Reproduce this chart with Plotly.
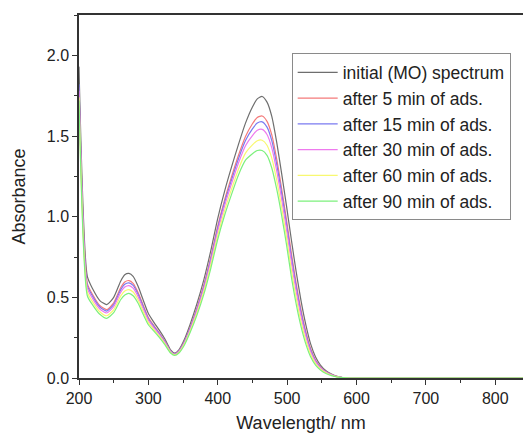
import plotly.graph_objects as go

wavelength = [200, 212, 220, 230, 240, 250, 260, 266, 272, 278, 285, 292, 300, 308, 316, 324, 332, 338,
              344, 352, 360, 370, 380, 390, 400, 410, 420, 430, 440, 450, 457, 464, 471, 478, 485, 492,
              499, 506, 513, 520, 527, 534, 541, 548, 556, 564, 572, 580, 590, 840]

initial = [1.93, 0.63, 0.55, 0.48, 0.455, 0.50, 0.60, 0.64, 0.648, 0.63, 0.57, 0.49, 0.40, 0.345, 0.295, 0.24, 0.175, 0.155,
           0.175, 0.24, 0.33, 0.46, 0.61, 0.79, 0.99, 1.16, 1.31, 1.45, 1.58, 1.68, 1.73, 1.745, 1.71, 1.62, 1.46, 1.27,
           1.07, 0.86, 0.66, 0.48, 0.33, 0.21, 0.13, 0.08, 0.045, 0.025, 0.010, 0.003, 0.0, 0.0]

min5 = [1.80, 0.587, 0.514, 0.449, 0.424, 0.466, 0.559, 0.595, 0.604, 0.587, 0.532, 0.458, 0.375, 0.325, 0.279, 0.227, 0.168, 0.150,
        0.168, 0.227, 0.312, 0.435, 0.578, 0.750, 0.943, 1.106, 1.249, 1.382, 1.497, 1.576, 1.615, 1.624, 1.591, 1.505, 1.356, 1.176,
        0.984, 0.777, 0.588, 0.422, 0.287, 0.181, 0.112, 0.069, 0.039, 0.021, 0.009, 0.003, 0.0, 0.0]

min15 = [1.82, 0.574, 0.503, 0.440, 0.415, 0.455, 0.546, 0.581, 0.590, 0.574, 0.521, 0.448, 0.367, 0.319, 0.274, 0.224, 0.166, 0.148,
         0.166, 0.224, 0.307, 0.427, 0.568, 0.738, 0.929, 1.090, 1.230, 1.361, 1.472, 1.544, 1.580, 1.588, 1.555, 1.470, 1.324, 1.148,
         0.957, 0.752, 0.566, 0.405, 0.274, 0.172, 0.107, 0.066, 0.037, 0.020, 0.008, 0.003, 0.0, 0.0]

min30 = [1.78, 0.557, 0.489, 0.428, 0.403, 0.442, 0.530, 0.564, 0.573, 0.557, 0.506, 0.435, 0.357, 0.311, 0.268, 0.219, 0.163, 0.146,
         0.163, 0.219, 0.300, 0.417, 0.555, 0.723, 0.911, 1.069, 1.206, 1.334, 1.440, 1.503, 1.535, 1.541, 1.509, 1.425, 1.283, 1.111,
         0.924, 0.720, 0.538, 0.382, 0.257, 0.161, 0.100, 0.062, 0.035, 0.019, 0.008, 0.002, 0.0, 0.0]

min60 = [1.74, 0.533, 0.469, 0.411, 0.386, 0.423, 0.507, 0.539, 0.548, 0.533, 0.485, 0.417, 0.343, 0.300, 0.259, 0.212, 0.159, 0.143,
         0.159, 0.212, 0.290, 0.403, 0.537, 0.701, 0.885, 1.039, 1.172, 1.296, 1.394, 1.445, 1.471, 1.474, 1.443, 1.361, 1.225, 1.059,
         0.876, 0.674, 0.498, 0.350, 0.233, 0.145, 0.090, 0.056, 0.032, 0.017, 0.007, 0.002, 0.0, 0.0]

min90 = [1.72, 0.51, 0.45, 0.395, 0.37, 0.405, 0.485, 0.515, 0.525, 0.51, 0.465, 0.40, 0.33, 0.29, 0.25, 0.205, 0.155, 0.14,
         0.155, 0.205, 0.28, 0.39, 0.52, 0.68, 0.86, 1.01, 1.14, 1.26, 1.35, 1.39, 1.41, 1.41, 1.38, 1.30, 1.17, 1.01,
         0.83, 0.63, 0.46, 0.32, 0.21, 0.13, 0.08, 0.05, 0.028, 0.015, 0.006, 0.002, 0.0, 0.0]

series_names = ["initial (MO) spectrum", "after 5 min of ads.", "after 15 min of ads.",
                "after 30 min of ads.", "after 60 min of ads.", "after 90 min of ads."]
series_values = [initial, min5, min15, min30, min60, min90]
series_colors = ["#6e6e6e", "#f47a7a", "#7a7af0", "#ee7aee", "#f8f870", "#7cf07c"]

y_ticks = [0.0, 0.5, 1.0, 1.5, 2.0]
x_ticks = [200, 300, 400, 500, 600, 700, 800]

FONT = "Arial, Liberation Sans, sans-serif"

fig = go.Figure()
for name, vals, col in zip(series_names, series_values, series_colors):
    fig.add_trace(go.Scatter(x=wavelength, y=vals, mode="lines", name=name,
                             line=dict(color=col, width=1.2, shape="spline", smoothing=0.6)))

fig.update_layout(
    width=523, height=434,
    margin=dict(l=79, r=0, t=15, b=56),
    paper_bgcolor="white", plot_bgcolor="white",
    font=dict(family=FONT, size=16, color="#222"),
    showlegend=True,
    legend=dict(x=0.479, y=0.894, xanchor="left", yanchor="top",
                bgcolor="white", bordercolor="#8a8a8a", borderwidth=1,
                font=dict(family=FONT, size=17.5, color="#222"),
                itemwidth=40, tracegroupgap=0),
)
fig.update_xaxes(
    range=[200, 840], tickvals=x_ticks, ticks="outside", ticklen=5, tickwidth=1.3,
    tickcolor="#333", showline=True, linecolor="#333", linewidth=1.5, mirror=True,
    showgrid=False, zeroline=False,
    minor=dict(ticks="outside", ticklen=3, tickwidth=1.2, tickcolor="#333", dtick=50, showgrid=False),
    title=dict(text="Wavelength/ nm", font=dict(family=FONT, size=18, color="#222"), standoff=10),
    tickfont=dict(family=FONT, size=16, color="#222"),
)
fig.update_yaxes(
    range=[0, 2.25], tickvals=y_ticks, tickformat=".1f", ticks="outside", ticklen=5, tickwidth=1.3,
    tickcolor="#333", showline=True, linecolor="#333", linewidth=1.5, mirror=False,
    showgrid=False, zeroline=False,
    minor=dict(ticks="outside", ticklen=3, tickwidth=1.2, tickcolor="#333", dtick=0.25, showgrid=False),
    title=dict(text="Absorbance", font=dict(family=FONT, size=18, color="#222"), standoff=16),
    tickfont=dict(family=FONT, size=16, color="#222"),
)

fig.write_html("out.html", config={"displayModeBar": False},
               post_script="document.body.style.margin='0';document.body.style.overflow='hidden';")
